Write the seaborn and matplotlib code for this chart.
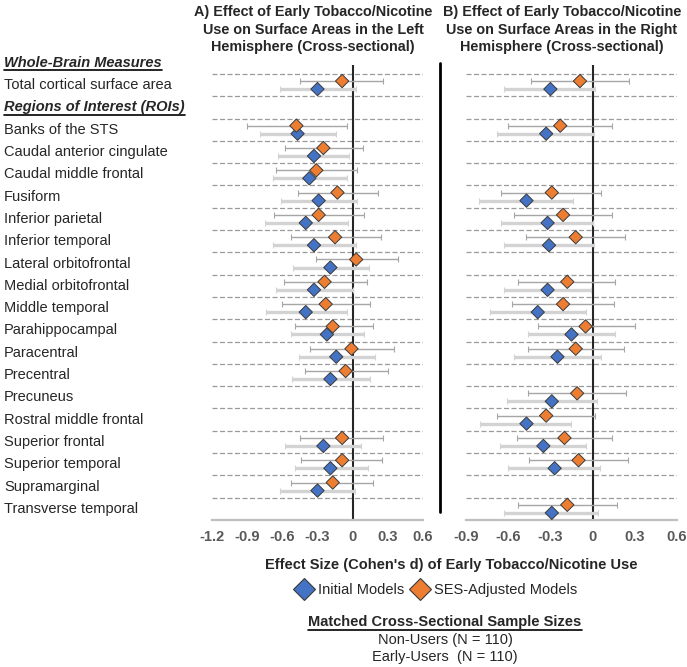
import matplotlib
matplotlib.use('Agg')
import matplotlib.pyplot as plt
import matplotlib.transforms as mtransforms
from matplotlib.lines import Line2D
import numpy as np
import pandas as pd
import seaborn as sns

sns.set_theme(style='white')
plt.rcParams['font.family'] = ['Liberation Sans', 'DejaVu Sans']

nan = np.nan

# ── Rows (Total first, then ROIs) ──
REGIONS = [
    "Total cortical surface area",
    "Banks of the STS", "Caudal anterior cingulate", "Caudal middle frontal",
    "Fusiform", "Inferior parietal", "Inferior temporal", "Lateral orbitofrontal",
    "Medial orbitofrontal", "Middle temporal", "Parahippocampal", "Paracentral",
    "Precentral", "Precuneus", "Rostral middle frontal", "Superior frontal",
    "Superior temporal", "Supramarginal", "Transverse temporal",
]
ROW_POS = [0] + list(range(2, 20))

# ── Left hemisphere: Cohen's d and 95% CI ──
L_INIT_D  = [-0.30, -0.47, -0.33, -0.37, -0.29, -0.40, -0.33, -0.19, -0.33, -0.40, -0.22, -0.14, -0.19, nan, nan, -0.25, -0.19, -0.30, nan]
L_INIT_LO = [-0.62, -0.79, -0.64, -0.68, -0.61, -0.75, -0.68, -0.51, -0.65, -0.74, -0.53, -0.46, -0.52, nan, nan, -0.58, -0.49, -0.62, nan]
L_INIT_HI = [0.03, -0.14, -0.03, -0.05, 0.04, -0.04, 0.03, 0.14, 0.00, -0.05, 0.10, 0.19, 0.15, nan, nan, 0.07, 0.13, 0.02, nan]
L_SES_D   = [-0.09, -0.48, -0.25, -0.31, -0.13, -0.29, -0.15, 0.03, -0.24, -0.23, -0.17, -0.01, -0.06, nan, nan, -0.09, -0.09, -0.17, nan]
L_SES_LO  = [-0.45, -0.90, -0.58, -0.65, -0.47, -0.67, -0.53, -0.31, -0.59, -0.60, -0.49, -0.36, -0.41, nan, nan, -0.45, -0.44, -0.53, nan]
L_SES_HI  = [0.26, -0.05, 0.09, 0.04, 0.22, 0.10, 0.24, 0.39, 0.12, 0.15, 0.17, 0.35, 0.30, nan, nan, 0.26, 0.25, 0.17, nan]

# ── Right hemisphere ──
R_INIT_D  = [-0.30, -0.33, nan, nan, -0.47, -0.32, -0.31, nan, -0.32, -0.39, -0.15, -0.25, nan, -0.29, -0.47, -0.35, -0.27, nan, -0.29]
R_INIT_LO = [-0.63, -0.68, nan, nan, -0.81, -0.65, -0.63, nan, -0.63, -0.73, -0.46, -0.56, nan, -0.61, -0.80, -0.66, -0.60, nan, -0.63]
R_INIT_HI = [0.02, 0.01, nan, nan, -0.14, 0.00, 0.01, nan, -0.01, -0.05, 0.16, 0.06, nan, 0.03, -0.15, -0.05, 0.05, nan, 0.04]
R_SES_D   = [-0.09, -0.23, nan, nan, -0.29, -0.21, -0.12, nan, -0.18, -0.21, -0.05, -0.12, nan, -0.11, -0.33, -0.20, -0.10, nan, -0.18]
R_SES_LO  = [-0.44, -0.60, nan, nan, -0.65, -0.56, -0.47, nan, -0.53, -0.57, -0.39, -0.46, nan, -0.46, -0.68, -0.54, -0.45, nan, -0.53]
R_SES_HI  = [0.26, 0.14, nan, nan, 0.06, 0.14, 0.23, nan, 0.16, 0.15, 0.30, 0.22, nan, 0.24, 0.02, 0.14, 0.25, nan, 0.17]

MODELS = ["Initial Models", "SES-Adjusted Models"]
PALETTE = {"Initial Models": "#4472C4", "SES-Adjusted Models": "#ED7D31"}
OFFSET = {"Initial Models": 0.18, "SES-Adjusted Models": -0.18}
ERR_STYLE = {"Initial Models": dict(ecolor='#d3d3d3', elinewidth=2.4),
             "SES-Adjusted Models": dict(ecolor='#a6a6a6', elinewidth=1.0)}


def build(init_d, init_lo, init_hi, ses_d, ses_lo, ses_hi):
    frames = []
    for model, d, lo, hi in [(MODELS[0], init_d, init_lo, init_hi),
                             (MODELS[1], ses_d, ses_lo, ses_hi)]:
        frames.append(pd.DataFrame({
            "region": REGIONS, "row": ROW_POS, "model": model,
            "d": d, "lo": lo, "hi": hi,
        }))
    df = pd.concat(frames, ignore_index=True).dropna()
    df["y"] = df["row"] + df["model"].map(OFFSET)
    return df


W, H = 687, 667
fig = plt.figure(figsize=(W / 100, H / 100), dpi=100)
ax_l = fig.add_axes([212 / W, 1 - 520 / H, 211 / W, 455 / H])
ax_r = fig.add_axes([466 / W, 1 - 520 / H, 211 / W, 455 / H])

panels = [
    (ax_l, build(L_INIT_D, L_INIT_LO, L_INIT_HI, L_SES_D, L_SES_LO, L_SES_HI),
     (-1.2, 0.6), [-1.2, -0.9, -0.6, -0.3, 0, 0.3, 0.6], 313,
     "A) Effect of Early Tobacco/Nicotine\nUse on Surface Areas in the Left\nHemisphere (Cross-sectional)"),
    (ax_r, build(R_INIT_D, R_INIT_LO, R_INIT_HI, R_SES_D, R_SES_LO, R_SES_HI),
     (-0.9, 0.6), [-0.9, -0.6, -0.3, 0, 0.3, 0.6], 562,
     "B) Effect of Early Tobacco/Nicotine\nUse on Surface Areas in the Right\nHemisphere (Cross-sectional)"),
]

n_rows = max(ROW_POS) + 1
for ax, df, xlim, ticks, title_x, title in panels:
    # dashed row separators
    for i in range(n_rows):
        ax.axhline(i - 0.5, color='#9a9a9a', lw=0.9, ls=(0, (4, 2)), zorder=1)
    ax.axvline(0, color='#262626', lw=1.5, zorder=2)
    for model in MODELS:
        sub = df[df["model"] == model]
        ax.errorbar(sub["d"], sub["y"],
                    xerr=[sub["d"] - sub["lo"], sub["hi"] - sub["d"]],
                    fmt='none', capsize=2, capthick=0.8, zorder=3,
                    **ERR_STYLE[model])
    sns.scatterplot(data=df, x="d", y="y", hue="model", palette=PALETTE,
                    hue_order=MODELS, marker='D', s=46, edgecolor='#3a3a3a',
                    linewidth=0.7, legend=False, ax=ax, zorder=4)
    ax.set_xlim(*xlim)
    ax.set_ylim(n_rows - 0.5, -0.9)
    ax.set_xticks(ticks)
    ax.set_xticklabels([f"{t:g}" for t in ticks], fontsize=10.5,
                       fontweight='bold', color='#595959')
    ax.set_yticks([])
    ax.set_xlabel('')
    ax.set_ylabel('')
    ax.tick_params(axis='x', length=0, pad=7)
    for s in ['top', 'left', 'right']:
        ax.spines[s].set_visible(False)
    ax.spines['bottom'].set_color('#bfbfbf')
    ax.spines['bottom'].set_linewidth(1.6)
    ax.patch.set_alpha(0)
    fig.text(title_x / W, 1 - 5 / H, title, ha='center', va='top', fontsize=10.4,
             fontweight='bold', linespacing=1.32)

# ── Row labels on the left ──
trans = mtransforms.blended_transform_factory(fig.transFigure, ax_l.transData)
headers = []
headers.append(fig.text(4 / W, -1, "Whole-Brain Measures", transform=trans,
                        va='center', fontsize=10.5, fontweight='bold', fontstyle='italic'))
headers.append(fig.text(4 / W, 1, "Regions of Interest (ROIs)", transform=trans,
                        va='center', fontsize=10.5, fontweight='bold', fontstyle='italic'))
for name, pos in zip(REGIONS, ROW_POS):
    fig.text(4 / W, pos, name, transform=trans, va='center', fontsize=10.5)

# panel separator
fig.add_artist(Line2D([439.5 / W, 439.5 / W], [1 - 63 / H, 1 - 512 / H],
                      transform=fig.transFigure, color='black', lw=2))

# ── Bottom annotations ──
fig.text(451 / W, 1 - 565 / H, "Effect Size (Cohen's d) of Early Tobacco/Nicotine Use",
         ha='center', va='center', fontsize=10.5, fontweight='bold')
handles = [Line2D([], [], marker='D', ls='none', markersize=11.5,
                  markerfacecolor=PALETTE[m], markeredgecolor='#3a3a3a',
                  markeredgewidth=0.8, label=m) for m in MODELS]
fig.legend(handles=handles, loc='center', bbox_to_anchor=(436 / W, 1 - 590 / H),
           ncol=2, frameon=False, fontsize=10.5, handlelength=1.3,
           handletextpad=0.3, columnspacing=0.4, borderpad=0)
headers.append(fig.text(445 / W, 1 - 622 / H, "Matched Cross-Sectional Sample Sizes",
                        ha='center', va='center', fontsize=10.5, fontweight='bold'))
fig.text(445 / W, 1 - 640 / H, "Non-Users (N = 110)", ha='center', va='center', fontsize=10.5)
fig.text(445 / W, 1 - 657 / H, "Early-Users  (N = 110)", ha='center', va='center', fontsize=10.5)

# underline header texts
fig.canvas.draw()
renderer = fig.canvas.get_renderer()
inv = fig.transFigure.inverted()
for t in headers:
    bb = t.get_window_extent(renderer)
    (x0, y0), (x1, _) = inv.transform([(bb.x0, bb.y0 - 0.5), (bb.x1, bb.y1)])
    fig.add_artist(Line2D([x0, x1], [y0, y0], transform=fig.transFigure,
                          color='black', lw=1.2))

fig.savefig("out.png", dpi=100, facecolor='white')
